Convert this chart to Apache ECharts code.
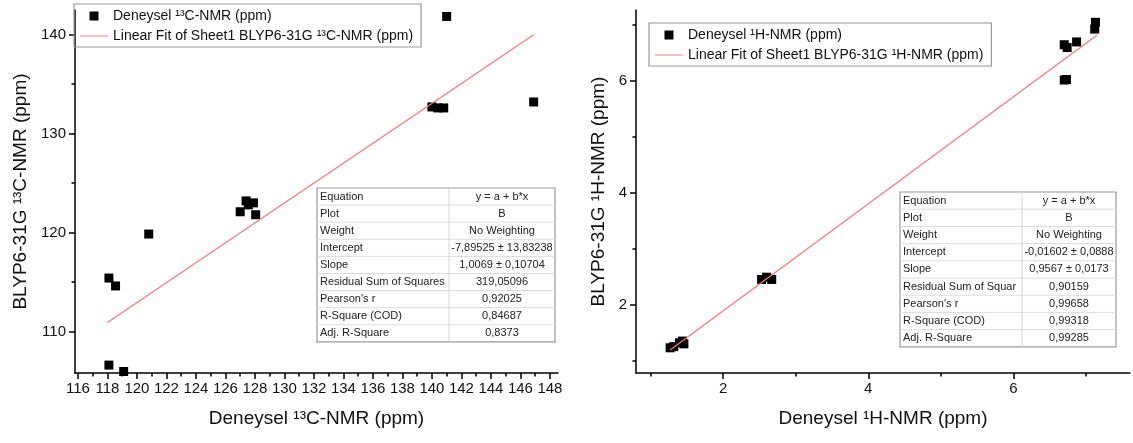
<!DOCTYPE html>
<html>
<head>
<meta charset="utf-8">
<script src="https://cdn.jsdelivr.net/npm/echarts@6/dist/echarts.min.js"></script>
<style>
html, body { margin: 0; padding: 0; background: #fff; }
#chart { width: 1133px; height: 443px; }
</style>
</head>
<body>
<div id="chart"></div>
<script>
// 13C-NMR: experimental shift (x) vs BLYP6-31G computed shift (y)
const carbonPoints = [
  [118.1, 115.4], [118.55, 114.6], [118.1, 106.6], [119.1, 105.95], [120.8, 119.85],
  [127.0, 122.1], [127.4, 123.2], [127.55, 122.8], [127.9, 123.0], [128.05, 121.8],
  [140.0, 132.7], [140.4, 132.6], [140.8, 132.6], [141.0, 141.85], [146.9, 133.2]
];
const carbonFit = [[118.0, 110.9], [146.9, 140.0]];
const carbonMajorX = [116, 118, 120, 122, 124, 126, 128, 130, 132, 134, 136, 138, 140, 142, 144, 146, 148];
const carbonMinorX = [117, 119, 121, 123, 125, 127, 129, 131, 133, 135, 137, 139, 141, 143, 145, 147];
const carbonMajorY = [110, 120, 130, 140];
const carbonMinorY = [115, 125, 135];

// 1H-NMR
const protonPoints = [
  [1.27, 1.24], [1.32, 1.26], [1.40, 1.33], [1.44, 1.36], [1.46, 1.31],
  [2.53, 2.46], [2.60, 2.50], [2.67, 2.46],
  [6.70, 6.02], [6.73, 6.03], [6.70, 6.65], [6.74, 6.60], [6.87, 6.70],
  [7.12, 6.93], [7.13, 7.05]
];
const protonFit = [[1.27, 1.20], [7.15, 6.82]];
const protonMajorX = [2, 4, 6];
const protonMinorX = [1, 3, 5, 7];
const protonMajorY = [2, 4, 6];
const protonMinorY = [1, 3, 5, 7];

// fit report tables
const carbonTableLabels = ['Equation', 'Plot', 'Weight', 'Intercept', 'Slope',
  'Residual Sum of Squares', "Pearson's r", 'R-Square (COD)', 'Adj. R-Square'];
const carbonTableValues = ['y = a + b*x', 'B', 'No Weighting', '-7,89525 ± 13,83238', '1,0069 ± 0,10704',
  '319,05096', '0,92025', '0,84687', '0,8373'];
const protonTableLabels = ['Equation', 'Plot', 'Weight', 'Intercept', 'Slope',
  'Residual Sum of Squar', "Pearson's r", 'R-Square (COD)', 'Adj. R-Square'];
const protonTableValues = ['y = a + b*x', 'B', 'No Weighting', '-0,01602 ± 0,0888', '0,9567 ± 0,0173',
  '0,90159', '0,99658', '0,99318', '0,99285'];

const FONT = 'Arial, "Liberation Sans", sans-serif';

function axisPair(gridIndex, min, max, major, minor, name, nameGap, isY) {
  const main = {
    type: 'value', gridIndex: gridIndex, min: min, max: max,
    position: isY ? 'left' : 'bottom',
    splitLine: { show: false },
    axisLine: { show: true, onZero: false, lineStyle: { color: '#000', width: 1.5 } },
    axisTick: { show: true, length: 6, customValues: major, lineStyle: { color: '#000', width: 1.5 } },
    axisLabel: { customValues: major, fontSize: 15, color: '#111', fontFamily: FONT, margin: isY ? 9 : 8 },
    name: name, nameLocation: 'middle', nameGap: nameGap,
    nameTextStyle: { fontSize: 19, color: '#111', fontFamily: FONT }
  };
  const minorAxis = {
    type: 'value', gridIndex: gridIndex, min: min, max: max,
    position: isY ? 'left' : 'bottom',
    splitLine: { show: false },
    axisLine: { show: false, onZero: false },
    axisTick: { show: true, length: 3.5, customValues: minor, lineStyle: { color: '#000', width: 1.5 } },
    axisLabel: { show: false }
  };
  return [main, minorAxis];
}

function buildTable(x0, y0, width, col1, rowH, labels, values) {
  const n = labels.length;
  const els = [{
    type: 'rect', shape: { x: x0, y: y0, width: width, height: rowH * n },
    style: { fill: '#fff', stroke: '#9a9a9a', lineWidth: 1.2 }
  }];
  for (let i = 1; i < n; i++) {
    els.push({ type: 'line', shape: { x1: x0, y1: y0 + rowH * i, x2: x0 + width, y2: y0 + rowH * i },
      style: { stroke: '#dcdcdc', lineWidth: 1 } });
  }
  els.push({ type: 'line', shape: { x1: x0 + col1, y1: y0, x2: x0 + col1, y2: y0 + rowH * n },
    style: { stroke: '#d4d4d4', lineWidth: 1 } });
  labels.forEach(function (t, i) {
    els.push({ type: 'text', x: x0 + 3, y: y0 + rowH * (i + 0.5),
      style: { text: t, fill: '#222', font: '11px ' + FONT, textAlign: 'left', textVerticalAlign: 'middle', align: 'left', verticalAlign: 'middle' } });
  });
  values.forEach(function (t, i) {
    els.push({ type: 'text', x: x0 + col1 + (width - col1) / 2, y: y0 + rowH * (i + 0.5),
      style: { text: t, fill: '#222', font: '11px ' + FONT, textAlign: 'center', textVerticalAlign: 'middle', align: 'center', verticalAlign: 'middle' } });
  });
  return { type: 'group', z: 100, children: els };
}

const chart = echarts.init(document.getElementById('chart'), null, { renderer: 'canvas' });

const carbonX = axisPair(0, 115.8, 148.55, carbonMajorX, carbonMinorX, 'Deneysel ¹³C-NMR (ppm)', 36, false);
const carbonY = axisPair(0, 105.8, 142.5, carbonMajorY, carbonMinorY, 'BLYP6-31G ¹³C-NMR (ppm)', 45, true);
const protonX = axisPair(1, 0.8, 7.606, protonMajorX, protonMinorX, 'Deneysel ¹H-NMR (ppm)', 36, false);
const protonY = axisPair(1, 0.79, 7.27, protonMajorY, protonMinorY, 'BLYP6-31G ¹H-NMR (ppm)', 28, true);

const squareIcon = 'path://M0 0H10V10H0Z';
const lineIcon = 'path://M0 0H40V1.3H0Z';
const legendBase = {
  orient: 'vertical', borderColor: '#9a9a9a', borderWidth: 1.2,
  padding: [5, 8, 4, 6], itemGap: 6, itemWidth: 28, itemHeight: 9,
  textStyle: { fontSize: 14, color: '#111', fontFamily: FONT }
};

chart.setOption({
  animation: false,
  backgroundColor: '#fff',
  grid: [
    { left: 75, top: 10, width: 483, height: 363, containLabel: false },
    { left: 636, top: 10, width: 494, height: 363, containLabel: false }
  ],
  xAxis: [].concat(carbonX, protonX),
  yAxis: [].concat(carbonY, protonY),
  legend: [
    Object.assign({}, legendBase, { left: 74, top: 4,
      data: [{ name: 'Deneysel ¹³C-NMR (ppm)', icon: squareIcon },
             { name: 'Linear Fit of Sheet1 BLYP6-31G ¹³C-NMR (ppm)', icon: lineIcon }] }),
    Object.assign({}, legendBase, { left: 649, top: 23,
      data: [{ name: 'Deneysel ¹H-NMR (ppm)', icon: squareIcon },
             { name: 'Linear Fit of Sheet1 BLYP6-31G ¹H-NMR (ppm)', icon: lineIcon }] })
  ],
  graphic: [
    buildTable(317, 188, 238, 132, 17.1, carbonTableLabels, carbonTableValues),
    buildTable(900, 192, 216, 122, 17.2, protonTableLabels, protonTableValues)
  ],
  series: [
    { name: 'Linear Fit of Sheet1 BLYP6-31G ¹³C-NMR (ppm)', type: 'line', xAxisIndex: 0, yAxisIndex: 0,
      data: carbonFit, symbol: 'none', lineStyle: { color: '#f27a7a', width: 1.3 }, itemStyle: { color: '#f27a7a' } },
    { name: 'Deneysel ¹³C-NMR (ppm)', type: 'scatter', xAxisIndex: 0, yAxisIndex: 0,
      data: carbonPoints, symbol: 'rect', symbolSize: 9, itemStyle: { color: '#000', opacity: 1 } },
    { name: 'Linear Fit of Sheet1 BLYP6-31G ¹H-NMR (ppm)', type: 'line', xAxisIndex: 2, yAxisIndex: 2,
      data: protonFit, symbol: 'none', lineStyle: { color: '#f27a7a', width: 1.3 }, itemStyle: { color: '#f27a7a' } },
    { name: 'Deneysel ¹H-NMR (ppm)', type: 'scatter', xAxisIndex: 2, yAxisIndex: 2,
      data: protonPoints, symbol: 'rect', symbolSize: 9, itemStyle: { color: '#000', opacity: 1 } }
  ]
});
</script>
</body>
</html>
